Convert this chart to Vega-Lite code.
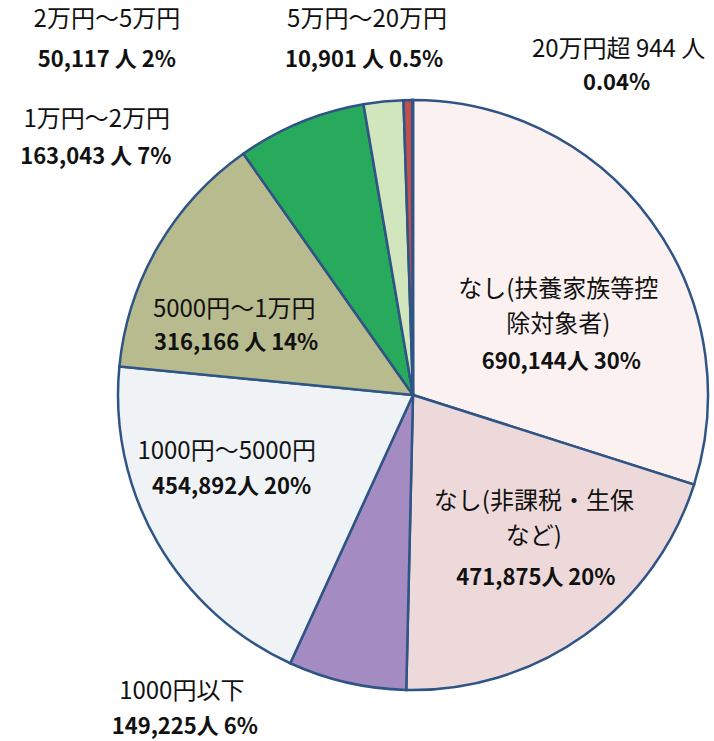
{
  "$schema": "https://vega.github.io/schema/vega-lite/v6.json",
  "width": 602,
  "height": 692,
  "autosize": {"type": "none"},
  "padding": {"left": 112, "top": 49, "right": 0, "bottom": 0},
  "background": "white",
  "data": {
    "values": [
      {"order": 1, "cat": "なし(扶養家族等控除対象者)", "value": 690144, "name": "なし(扶養家族等控\n除対象者)", "num": "690,144人 30%"},
      {"order": 2, "cat": "なし(非課税・生保など)", "value": 471875, "name": "なし(非課税・生保\nなど)", "num": "471,875人 20%"},
      {"order": 3, "cat": "1000円以下", "value": 149225, "name": "1000円以下", "num": "149,225人 6%"},
      {"order": 4, "cat": "1000円～5000円", "value": 454892, "name": "1000円～5000円", "num": "454,892人 20%"},
      {"order": 5, "cat": "5000円～1万円", "value": 316166, "name": "5000円～1万円", "num": "316,166 人 14%"},
      {"order": 6, "cat": "1万円～2万円", "value": 163043, "name": "1万円～2万円", "num": "163,043 人 7%"},
      {"order": 7, "cat": "2万円～5万円", "value": 50117, "name": "2万円～5万円", "num": "50,117 人 2%"},
      {"order": 8, "cat": "5万円～20万円", "value": 10901, "name": "5万円～20万円", "num": "10,901 人 0.5%"},
      {"order": 9, "cat": "20万円超", "value": 944, "name": "20万円超 944 人", "num": "0.04%"}
    ]
  },
  "encoding": {
    "theta": {"field": "value", "type": "quantitative", "stack": true},
    "order": {"field": "order", "type": "quantitative"}
  },
  "layer": [
    {
      "mark": {"type": "arc", "radius": 295, "stroke": "#2f5486", "strokeWidth": 2.5},
      "encoding": {
        "color": {
          "field": "cat", "type": "nominal", "legend": null,
          "scale": {
            "domain": ["なし(扶養家族等控除対象者)", "なし(非課税・生保など)", "1000円以下", "1000円～5000円", "5000円～1万円", "1万円～2万円", "2万円～5万円", "5万円～20万円", "20万円超"],
            "range": ["#fbf1f1", "#edd9d9", "#a48cc2", "#f0f3f6", "#b8bb8d", "#27aa5b", "#d2e6bd", "#c0504d", "#2f5597"]
          }
        }
      }
    },
    {"mark": {"type": "text", "radius": 170, "dx": 8, "dy": -5}, "encoding": {"text": {"condition": {"test": "datum.order === 1", "field": "name"}, "value": ""}}},
    {"mark": {"type": "text", "radius": 160, "dx": 28, "dy": -23}, "encoding": {"text": {"condition": {"test": "datum.order === 2", "field": "name"}, "value": ""}}},
    {"mark": {"type": "text", "radius": 300, "dx": -164, "dy": 5}, "encoding": {"text": {"condition": {"test": "datum.order === 3", "field": "name"}, "value": ""}}},
    {"mark": {"type": "text", "radius": 200, "dx": -13, "dy": -43}, "encoding": {"text": {"condition": {"test": "datum.order === 4", "field": "name"}, "value": ""}}},
    {"mark": {"type": "text", "radius": 200, "dx": -6, "dy": 16}, "encoding": {"text": {"condition": {"test": "datum.order === 5", "field": "name"}, "value": ""}}},
    {"mark": {"type": "text", "radius": 300, "dx": -202, "dy": 2}, "encoding": {"text": {"condition": {"test": "datum.order === 6", "field": "name"}, "value": ""}}},
    {"mark": {"type": "text", "radius": 340, "dx": -272, "dy": -37}, "encoding": {"text": {"condition": {"test": "datum.order === 7", "field": "name"}, "value": ""}}},
    {"mark": {"type": "text", "radius": 340, "dx": -40, "dy": -35}, "encoding": {"text": {"condition": {"test": "datum.order === 8", "field": "name"}, "value": ""}}},
    {"mark": {"type": "text", "radius": 340, "dx": 206, "dy": -5}, "encoding": {"text": {"condition": {"test": "datum.order === 9", "field": "name"}, "value": ""}}},
    {"mark": {"type": "text", "radius": 170, "dx": 11, "dy": 67, "fontSize": 22, "fontWeight": "bold"}, "encoding": {"text": {"condition": {"test": "datum.order === 1", "field": "num"}, "value": ""}}},
    {"mark": {"type": "text", "radius": 160, "dx": 30, "dy": 53, "fontSize": 22, "fontWeight": "bold"}, "encoding": {"text": {"condition": {"test": "datum.order === 2", "field": "num"}, "value": ""}}},
    {"mark": {"type": "text", "radius": 300, "dx": -161, "dy": 40, "fontSize": 22, "fontWeight": "bold"}, "encoding": {"text": {"condition": {"test": "datum.order === 3", "field": "num"}, "value": ""}}},
    {"mark": {"type": "text", "radius": 200, "dx": -8, "dy": -8, "fontSize": 22, "fontWeight": "bold"}, "encoding": {"text": {"condition": {"test": "datum.order === 4", "field": "num"}, "value": ""}}},
    {"mark": {"type": "text", "radius": 200, "dx": -4, "dy": 49, "fontSize": 22, "fontWeight": "bold"}, "encoding": {"text": {"condition": {"test": "datum.order === 5", "field": "num"}, "value": ""}}},
    {"mark": {"type": "text", "radius": 300, "dx": -203, "dy": 39, "fontSize": 22, "fontWeight": "bold"}, "encoding": {"text": {"condition": {"test": "datum.order === 6", "field": "num"}, "value": ""}}},
    {"mark": {"type": "text", "radius": 340, "dx": -272, "dy": 3, "fontSize": 22, "fontWeight": "bold"}, "encoding": {"text": {"condition": {"test": "datum.order === 7", "field": "num"}, "value": ""}}},
    {"mark": {"type": "text", "radius": 340, "dx": -43, "dy": 5, "fontSize": 22, "fontWeight": "bold"}, "encoding": {"text": {"condition": {"test": "datum.order === 8", "field": "num"}, "value": ""}}},
    {"mark": {"type": "text", "radius": 340, "dx": 204, "dy": 28, "fontSize": 22, "fontWeight": "bold"}, "encoding": {"text": {"condition": {"test": "datum.order === 9", "field": "num"}, "value": ""}}}
  ],
  "config": {
    "view": {"stroke": null},
    "text": {"font": "Noto Sans CJK JP", "fontSize": 24, "lineBreak": "\n", "lineHeight": 35, "baseline": "middle", "align": "center", "color": "#111111"}
  }
}
